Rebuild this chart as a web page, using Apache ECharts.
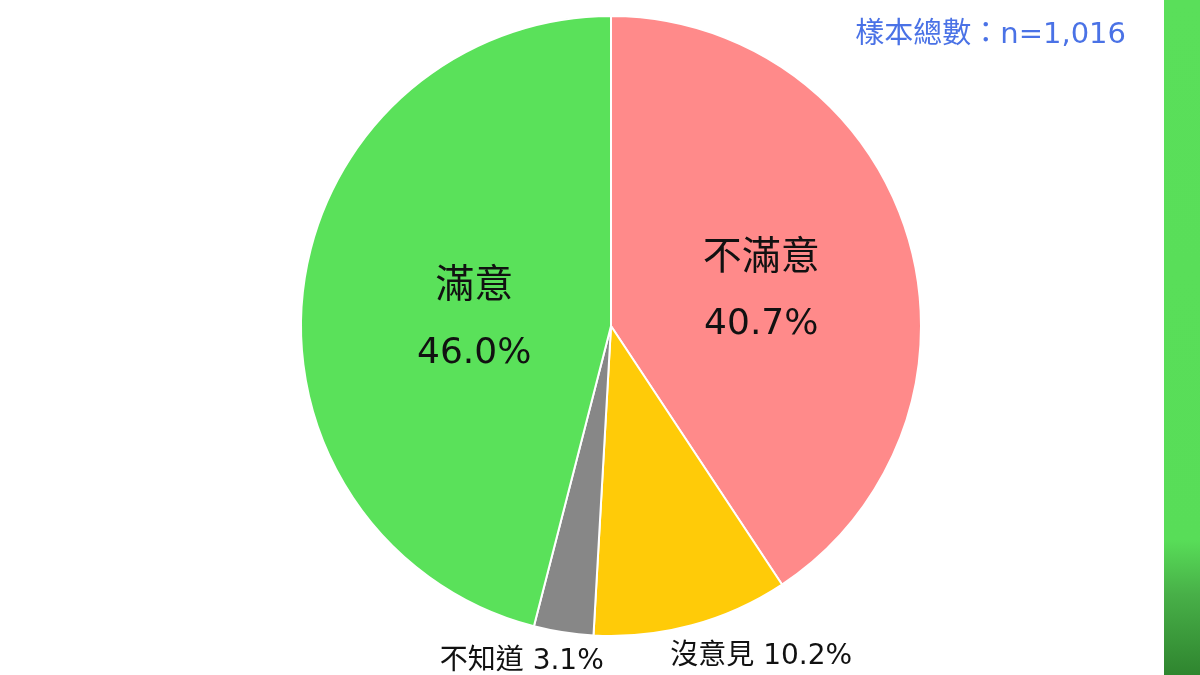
<!DOCTYPE html>
<html><head><meta charset="utf-8">
<script src="https://cdn.jsdelivr.net/npm/echarts@6/dist/echarts.min.js"></script>
<style>html,body{margin:0;padding:0;background:#fff}#c{width:1200px;height:675px}</style>
</head><body><div id="c"></div>
<script>
const categories = ['不滿意', '沒意見', '不知道', '滿意'];
const values = [40.7, 10.2, 3.1, 46.0];
const colors = ['#FF8A8A', '#FFCB08', '#878787', '#5AE15A'];
const sampleNote = '樣本總數：n=1,016';

const font = '"DejaVu Sans", "Noto Sans CJK TC", sans-serif';
const labelCfg = [
  { position: 'inside', offset: [-1, 11], big: true },
  { position: 'inside', offset: [109, 178], big: false },
  { position: 'inside', offset: [-65, 180], big: false },
  { position: 'inside', offset: [20, 14], big: true }
];

const data = categories.map((c, i) => {
  const L = labelCfg[i];
  const v = values[i].toFixed(1);
  return {
    name: c, value: values[i],
    itemStyle: { color: colors[i] },
    label: L.big ? {
      position: L.position, offset: L.offset,
      formatter: '{n|' + c + '}\n{v|' + v + '%}',
      rich: {
        n: { fontSize: 39, lineHeight: 66, color: '#111', fontFamily: font },
        v: { fontSize: 36, lineHeight: 66, color: '#111', fontFamily: font }
      }
    } : {
      position: L.position, offset: L.offset,
      formatter: c + ' ' + v + '%', fontSize: 28, color: '#111', fontFamily: font
    }
  };
});

const chart = echarts.init(document.getElementById('c'));
chart.setOption({
  animation: false,
  backgroundColor: '#fff',
  graphic: [
    { type: 'rect', shape: { x: 1164, y: 0, width: 36, height: 675 },
      style: { fill: { type: 'linear', x: 0, y: 0, x2: 0, y2: 1, colorStops: [
        { offset: 0, color: '#5ADF5A' }, { offset: 0.8, color: '#58DD58' },
        { offset: 0.88, color: '#48B048' }, { offset: 1, color: '#2F852F' }] } } },
    { type: 'text', right: 74, top: 21,
      style: { text: sampleNote, fontSize: 29, fill: '#4A72E6', fontFamily: font } }
  ],
  series: [{
    type: 'pie',
    center: [611, 326],
    radius: [0, 310],
    startAngle: 90,
    clockwise: true,
    avoidLabelOverlap: false,
    labelLine: { show: false },
    itemStyle: { borderColor: '#fff', borderWidth: 2 },
    emphasis: { disabled: true },
    data: data
  }]
});
</script></body></html>
